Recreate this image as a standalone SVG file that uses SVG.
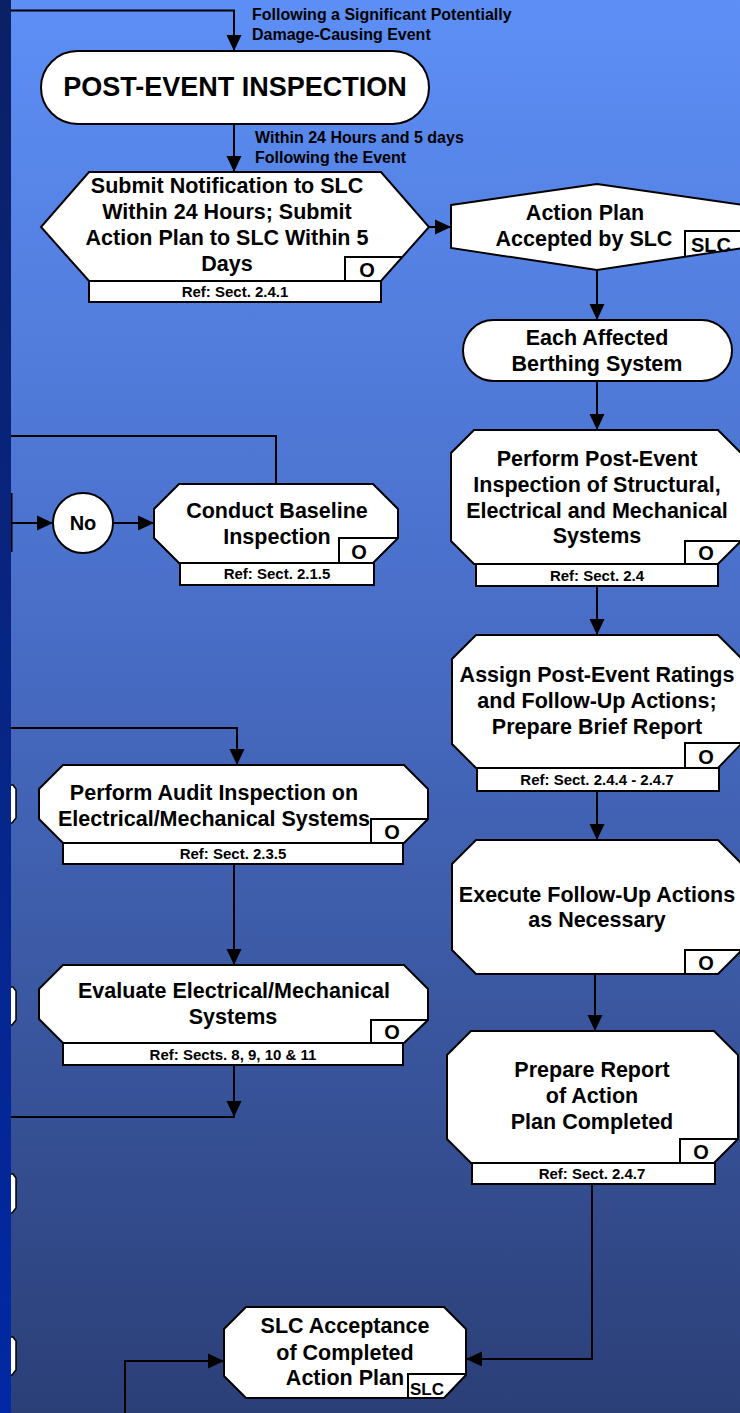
<svg xmlns="http://www.w3.org/2000/svg" width="740" height="1413" viewBox="0 0 740 1413">
<defs>
<linearGradient id="bg" x1="0" y1="0" x2="0" y2="1">
<stop offset="0" stop-color="#5d8ff6"/>
<stop offset="0.45" stop-color="#486dc6"/>
<stop offset="1" stop-color="#2b3f77"/>
</linearGradient>
<linearGradient id="strip" x1="0" y1="0" x2="0" y2="1">
<stop offset="0" stop-color="#0b2166"/>
<stop offset="1" stop-color="#0229a4"/>
</linearGradient>
<marker id="ah" markerWidth="16" markerHeight="16" refX="16" refY="8" orient="auto" markerUnits="userSpaceOnUse">
<path d="M0,0.5 L16,8 L0,15.5 z" fill="#000"/>
</marker>
<style>
.sh{fill:#fff;stroke:#000;stroke-width:2}
.bx{fill:none;stroke:#000;stroke-width:2}
.ln{fill:none;stroke:#000;stroke-width:2}
.ar{fill:none;stroke:#000;stroke-width:2;marker-end:url(#ah)}
.t{font-family:"Liberation Sans",Arial,sans-serif;font-weight:bold;font-size:21.5px;fill:#000;text-anchor:middle}
.big{font-size:27px}
.ref{font-size:15px}
.o{font-size:20px}
.lb{font-family:"Liberation Sans",Arial,sans-serif;font-weight:bold;font-size:16px;fill:#000}
</style>
</defs>
<rect x="0" y="0" width="740" height="1413" fill="url(#bg)"/>

<g id="connectors">
<polyline class="ar" points="11,10.5 234,10.5 234,51"/>
<line class="ar" x1="234" y1="124" x2="234" y2="172"/>
<line class="ar" x1="429" y1="227" x2="451" y2="227"/>
<line class="ar" x1="597" y1="270" x2="597" y2="320"/>
<line class="ar" x1="597" y1="381" x2="597" y2="430"/>
<line class="ar" x1="597" y1="586" x2="597" y2="635"/>
<line class="ar" x1="597" y1="791" x2="597" y2="840"/>
<line class="ar" x1="595" y1="974" x2="595" y2="1031"/>
<polyline class="ar" points="592,1184 592,1359 466,1359"/>
<polyline class="ar" points="125,1413 125,1361 224,1361"/>
<polyline class="ln" points="276,484 276,436 11,436"/>
<line class="ln" x1="11.5" y1="493" x2="11.5" y2="552"/>
<line class="ar" x1="11" y1="523" x2="53" y2="523"/>
<line class="ar" x1="113" y1="523" x2="154" y2="523"/>
<polyline class="ar" points="11,728 237,728 237,765"/>
<line class="ar" x1="234" y1="864" x2="234" y2="965"/>
<line class="ar" x1="234" y1="1065" x2="234" y2="1117"/>
<line class="ln" x1="11" y1="1117" x2="235" y2="1117"/>
</g>

<g id="edge-labels">
<text class="lb" x="252" y="20">Following a Significant Potentially</text>
<text class="lb" x="252" y="40">Damage-Causing Event</text>
<text class="lb" x="255" y="143">Within 24 Hours and 5 days</text>
<text class="lb" x="255" y="163">Following the Event</text>
</g>

<g id="post-event">
<rect class="sh" x="41" y="51" width="388" height="73" rx="36.5"/>
<text class="t big" x="235" y="96">POST-EVENT INSPECTION</text>
</g>

<g id="submit">
<polygon class="sh" points="89,172 381,172 429,227 381,281 89,281 41,227"/>
<polyline class="bx" points="345,281 345,257 402,257"/>
<text class="t o" x="367" y="277">O</text>
<rect class="sh" x="89" y="281" width="292" height="21"/>
<text class="t" x="227" y="193">Submit Notification to SLC</text>
<text class="t" x="227" y="219">Within 24 Hours; Submit</text>
<text class="t" x="227" y="245">Action Plan to SLC Within 5</text>
<text class="t" x="227" y="271">Days</text>
<text class="t ref" x="235" y="297">Ref: Sect. 2.4.1</text>
</g>

<g id="action-plan">
<polygon class="sh" points="451,205 597,184 743,205 743,248 597,270 451,248"/>
<polyline class="bx" points="685,257 685,231 743,231"/>
<text class="t" x="585" y="220">Action Plan</text>
<text class="t" x="584" y="246">Accepted by SLC</text>
<text class="t o" x="711" y="252">SLC</text>
</g>

<g id="each-affected">
<rect class="sh" x="463" y="320" width="269" height="61" rx="30.5"/>
<text class="t" x="597" y="345">Each Affected</text>
<text class="t" x="597" y="371">Berthing System</text>
</g>

<g id="perform-post">
<polygon class="sh" points="474,430 718,430 741,453 741,541 718,564 474,564 451,541 451,453"/>
<polyline class="bx" points="685,564 685,541 741,541"/>
<text class="t o" x="706" y="560">O</text>
<rect class="sh" x="476" y="564" width="242" height="22"/>
<text class="t" x="597" y="466">Perform Post-Event</text>
<text class="t" x="597" y="492">Inspection of Structural,</text>
<text class="t" x="597" y="518">Electrical and Mechanical</text>
<text class="t" x="597" y="543">Systems</text>
<text class="t ref" x="597" y="581">Ref: Sect. 2.4</text>
</g>

<g id="assign">
<polygon class="sh" points="476,635 718,635 742,659 742,743 718,768 476,768 452,744 452,659"/>
<polyline class="bx" points="685,768 685,743 742,743"/>
<text class="t o" x="706" y="764">O</text>
<rect class="sh" x="477" y="768" width="242" height="23"/>
<text class="t" x="597" y="682">Assign Post-Event Ratings</text>
<text class="t" x="597" y="708">and Follow-Up Actions;</text>
<text class="t" x="597" y="734">Prepare Brief Report</text>
<text class="t ref" x="597" y="785">Ref: Sect. 2.4.4 - 2.4.7</text>
</g>

<g id="execute">
<polygon class="sh" points="476,840 718,840 742,864 742,950 718,974 476,974 452,950 452,864"/>
<polyline class="bx" points="685,974 685,950 742,950"/>
<text class="t o" x="706" y="970">O</text>
<text class="t" x="597" y="902">Execute Follow-Up Actions</text>
<text class="t" x="597" y="927">as Necessary</text>
</g>

<g id="prepare-report">
<polygon class="sh" points="471,1031 714,1031 738,1055 738,1139 714,1163 471,1163 447,1139 447,1055"/>
<polyline class="bx" points="680,1163 680,1139 738,1139"/>
<text class="t o" x="701" y="1159">O</text>
<rect class="sh" x="472" y="1163" width="243" height="21"/>
<text class="t" x="592" y="1077">Prepare Report</text>
<text class="t" x="592" y="1103">of Action</text>
<text class="t" x="592" y="1129">Plan Completed</text>
<text class="t ref" x="592" y="1179">Ref: Sect. 2.4.7</text>
</g>

<g id="no">
<circle class="sh" cx="83" cy="523" r="30"/>
<text class="t o" x="83" y="530">No</text>
</g>

<g id="baseline">
<polygon class="sh" points="179,484 373,484 398,509 398,538 373,563 179,563 154,538 154,509"/>
<polyline class="bx" points="339,563 339,538 398,538"/>
<text class="t o" x="359" y="559">O</text>
<rect class="sh" x="180" y="563" width="194" height="22"/>
<text class="t" x="277" y="518">Conduct Baseline</text>
<text class="t" x="277" y="544">Inspection</text>
<text class="t ref" x="277" y="579">Ref: Sect. 2.1.5</text>
</g>

<g id="audit">
<polygon class="sh" points="63,765 404,765 428,789 428,819 404,843 63,843 39,819 39,789"/>
<polyline class="bx" points="371,843 371,819 428,819"/>
<text class="t o" x="392" y="839">O</text>
<rect class="sh" x="63" y="843" width="340" height="21"/>
<text class="t" x="214" y="800">Perform Audit Inspection on</text>
<text class="t" x="214" y="826">Electrical/Mechanical Systems</text>
<text class="t ref" x="233" y="859">Ref: Sect. 2.3.5</text>
</g>

<g id="evaluate">
<polygon class="sh" points="63,965 404,965 428,989 428,1020 404,1043 63,1043 39,1019 39,989"/>
<polyline class="bx" points="371,1043 371,1020 428,1020"/>
<text class="t o" x="392" y="1039">O</text>
<rect class="sh" x="63" y="1043" width="340" height="22"/>
<text class="t" x="234" y="998">Evaluate Electrical/Mechanical</text>
<text class="t" x="233" y="1024">Systems</text>
<text class="t ref" x="233" y="1060">Ref: Sects. 8, 9, 10 &amp; 11</text>
</g>

<g id="slc-acceptance">
<polygon class="sh" points="246,1307 444,1307 466,1329 466,1375 444,1398 246,1398 224,1376 224,1329"/>
<polyline class="bx" points="408,1398 408,1374 466,1374"/>
<text class="t" x="345" y="1333">SLC Acceptance</text>
<text class="t" x="345" y="1360">of Completed</text>
<text class="t" x="345" y="1385">Action Plan</text>
<text class="t" style="font-size:17px" x="427" y="1395">SLC</text>
</g>

<g id="left-edge">
<polygon class="sh" style="stroke-width:1.5" points="4,785 13,785 16,789 16,818 12,823 4,823"/>
<polygon class="sh" style="stroke-width:1.5" points="4,987 13,987 16,991 16,1020 12,1025 4,1025"/>
<polygon class="sh" style="stroke-width:1.5" points="4,1174 13,1174 16,1178 16,1208 12,1213 4,1213"/>
<polygon class="sh" style="stroke-width:1.5" points="4,1337 13,1337 16,1341 16,1370 12,1375 4,1375"/>
<rect x="0" y="0" width="11" height="1413" fill="url(#strip)"/>
</g>
</svg>
